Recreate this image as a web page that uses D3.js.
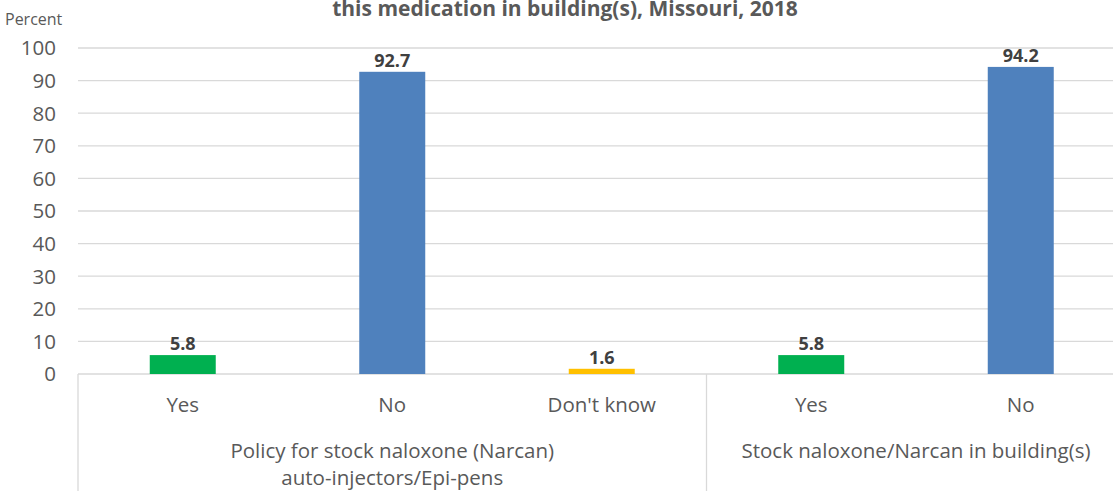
<!DOCTYPE html>
<html><head><meta charset="utf-8">
<script src="https://cdn.jsdelivr.net/npm/d3@7"></script>
<style>body{margin:0;background:#fff;} svg{display:block;}</style>
</head><body>
<svg id="chart" width="1113" height="491"></svg>
<script>
const categories = ["Yes", "No", "Don't know", "Yes", "No"];
const values = [5.8, 92.7, 1.6, 5.8, 94.2];
const colors = ["#00b050", "#4f81bd", "#ffc000", "#00b050", "#4f81bd"];
const groups = [
  {label: ["Policy for stock naloxone (Narcan)", "auto-injectors/Epi-pens"], start: 0, end: 3},
  {label: ["Stock naloxone/Narcan in building(s)"], start: 3, end: 5}
];
const yTicks = [0, 10, 20, 30, 40, 50, 60, 70, 80, 90, 100];
const titleLine = "this medication in building(s), Missouri, 2018";
const yAxisLabel = "Percent";

const font = "'Open Sans', sans-serif";
const svg = d3.select("#chart");
const left = 78, step = 209.5;
const x = d3.scaleBand().domain(d3.range(categories.length))
  .range([left, left + step * categories.length])
  .paddingInner(0.685).paddingOuter(0.3425);
const y = d3.scaleLinear().domain([0, 100]).range([374, 48]);

// gridlines
svg.append("g").selectAll("line").data(yTicks).join("line")
  .attr("x1", left).attr("x2", left + step * categories.length)
  .attr("y1", d => y(d)).attr("y2", d => y(d))
  .attr("stroke", "#d9d9d9").attr("stroke-width", 1.3);

// y tick labels
svg.append("g").selectAll("text").data(yTicks).join("text")
  .attr("x", 56).attr("y", d => y(d)).attr("dy", "0.36em")
  .attr("text-anchor", "end").attr("font-family", font).attr("font-size", 20.5)
  .attr("fill", "#595959").text(d => d);

// bars
svg.append("g").selectAll("rect").data(values).join("rect")
  .attr("x", (d, i) => x(i)).attr("width", x.bandwidth())
  .attr("y", d => y(d)).attr("height", d => y(0) - y(d))
  .attr("fill", (d, i) => colors[i]);

// value labels
svg.append("g").selectAll("text").data(values).join("text")
  .attr("x", (d, i) => x(i) + x.bandwidth() / 2).attr("y", d => y(d) - 5)
  .attr("text-anchor", "middle").attr("font-family", font).attr("font-size", 18)
  .attr("font-weight", "bold").attr("fill", "#404040").text(d => d.toFixed(1));

// category labels
svg.append("g").selectAll("text").data(categories).join("text")
  .attr("x", (d, i) => x(i) + x.bandwidth() / 2).attr("y", 412)
  .attr("text-anchor", "middle").attr("font-family", font).attr("font-size", 20.5)
  .attr("fill", "#595959").text(d => d);

// group separators
const seps = [0, 3, 5];
svg.append("g").selectAll("line").data(seps).join("line")
  .attr("x1", d => left + step * d).attr("x2", d => left + step * d)
  .attr("y1", y(0)).attr("y2", 491)
  .attr("stroke", "#d9d9d9").attr("stroke-width", 1.3);

// group labels
groups.forEach(g => {
  const cx = left + step * (g.start + g.end) / 2;
  g.label.forEach((line, k) => {
    svg.append("text").attr("x", cx).attr("y", 458 + k * 27)
      .attr("text-anchor", "middle").attr("font-family", font).attr("font-size", 20.5)
      .attr("fill", "#595959").text(line);
  });
});

// title
svg.append("text").attr("x", 565).attr("y", 16).attr("text-anchor", "middle")
  .attr("font-family", font).attr("font-size", 21).attr("font-weight", "bold")
  .attr("fill", "#595959").text(titleLine);

// y axis label
svg.append("text").attr("x", 5).attr("y", 25).attr("font-family", font)
  .attr("font-size", 16).attr("fill", "#595959").text(yAxisLabel);
</script>
</body></html>
